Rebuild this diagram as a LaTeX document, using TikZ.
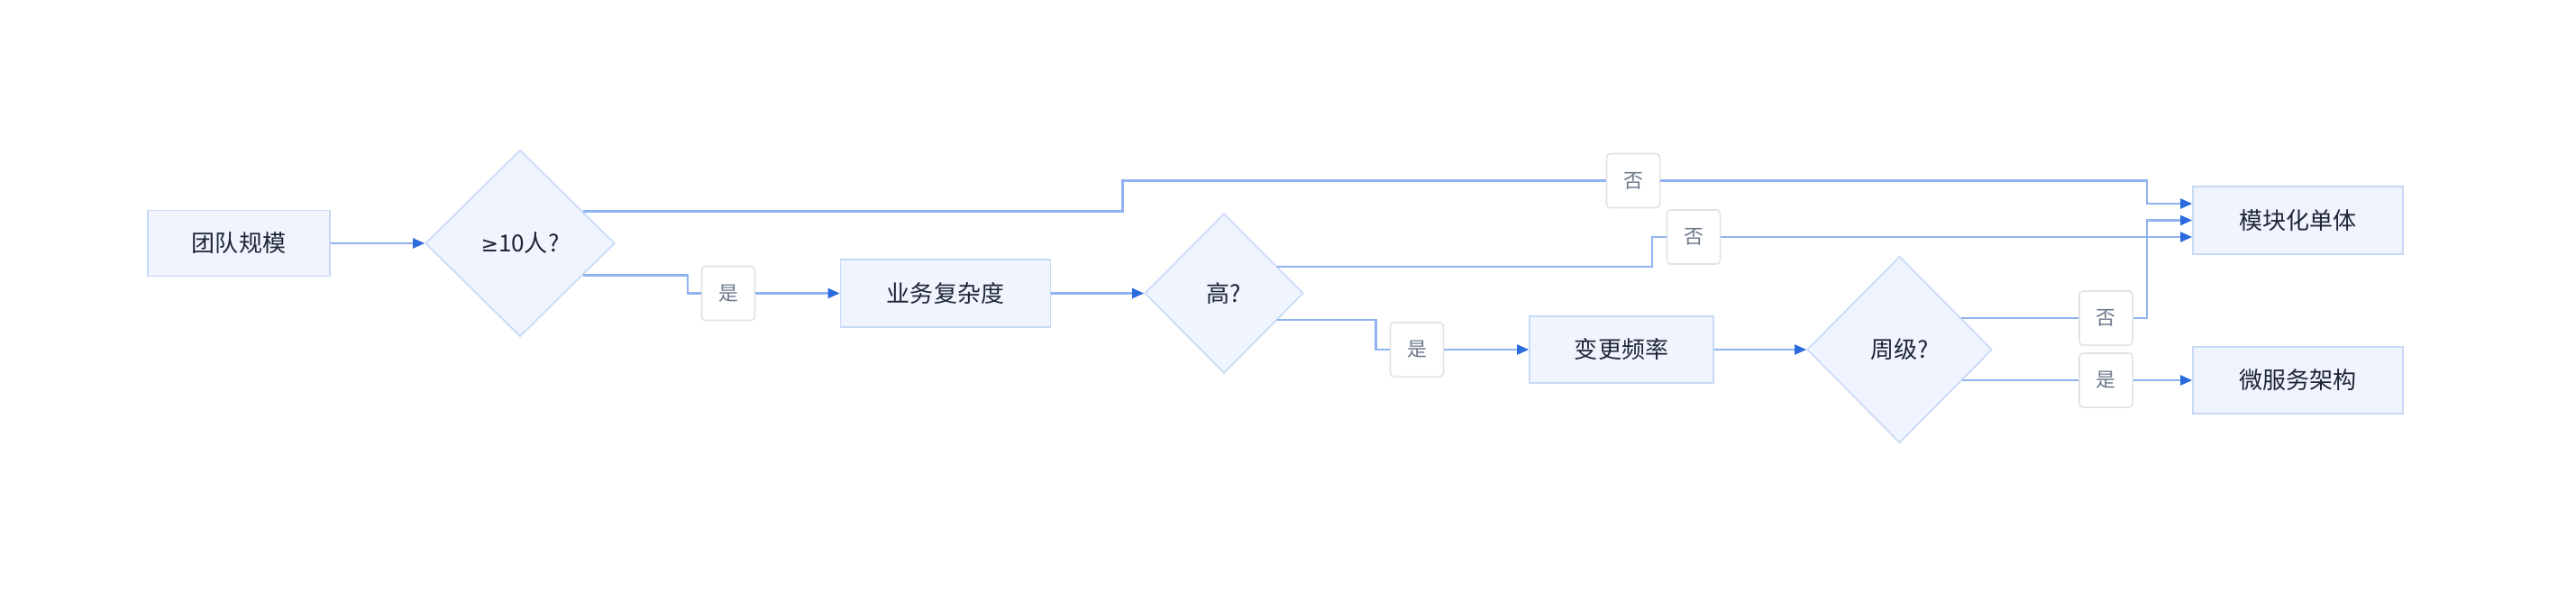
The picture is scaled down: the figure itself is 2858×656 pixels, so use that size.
\documentclass[tikz,border=0pt]{standalone}
\usepackage{fontspec}
\setmainfont{Noto Sans CJK SC}
\newfontfamily\mathsym{DejaVu Sans}
\usepackage{xcolor}
\usetikzlibrary{shapes.geometric, arrows.meta, calc, positioning}

\definecolor{boxfill}{HTML}{EFF4FE}
\definecolor{boxline}{HTML}{C7D9F5}
\definecolor{flowline}{HTML}{8FB3F0}
\definecolor{tipblue}{HTML}{2C6BDD}
\definecolor{tagline}{HTML}{E2E2E2}
\definecolor{tagtext}{HTML}{6B778A}
\definecolor{inktext}{HTML}{1F2633}

\begin{document}
\begin{tikzpicture}[x=0.01cm, y=-0.01cm,
                                stage/.style={draw=boxline, fill=boxfill, line width=0.45pt, text=inktext, font=\fontsize{7.4}{9}\selectfont, inner sep=0pt, minimum width=2.33cm, minimum height=0.75cm},
                                ask/.style={diamond, aspect=1, draw=boxline, fill=boxfill, line width=0.45pt, text=inktext, font=\fontsize{7.4}{9}\selectfont, inner sep=0pt},
                                tag/.style={draw=tagline, fill=white, rounded corners=1.2pt, line width=0.45pt, text=tagtext, font=\fontsize{6.2}{8}\selectfont, inner sep=0pt, minimum width=0.59cm, minimum height=0.6cm},
                                wire/.style={draw=flowline, line width=0.6pt},
                                flow/.style={wire, -{Triangle[length=0.13cm, width=0.11cm, color=tipblue]}}]
                                \useasboundingbox (0, 0) rectangle (2858, 656);

                                \node[stage, minimum width=2.02cm, minimum height=0.73cm] (team) at (265, 270) {团队规模};
                                \node[ask, minimum width=2.1cm, minimum height=2.07cm] (size) at (577, 270) {{\mathsym\fontsize{6.6}{9}\selectfont ≥}10人?};
                                \node[stage] (cplx) at (1049, 325.5) {业务复杂度};
                                \node[ask, minimum width=1.76cm, minimum height=1.77cm] (high) at (1358, 325.5) {高?};
                                \node[stage, minimum width=2.04cm, minimum height=0.74cm] (freq) at (1799, 388) {变更频率};
                                \node[ask, minimum width=2.05cm, minimum height=2.07cm] (week) at (2107.5, 388) {周级?};
                                \node[stage] (mono) at (2549.5, 244.5) {模块化单体};
                                \node[stage, minimum height=0.74cm] (micro) at (2549.5, 422) {微服务架构};

                                \node[tag] (yes1) at (808, 325.5) {是};
                                \node[tag] (no1) at (1812, 200.5) {否};
                                \node[tag] (no2) at (1879, 263) {否};
                                \node[tag] (yes2) at (1572, 388) {是};
                                \node[tag] (no3) at (2336.5, 353) {否};
                                \node[tag] (yes3) at (2336.5, 422) {是};

                                \coordinate (turn1) at (763, 0);
                                \coordinate (turn2) at (1245.5, 0);
                                \coordinate (turn3) at (1833, 0);
                                \coordinate (turn4) at (1526.5, 0);
                                \coordinate (merge) at (2382, 0);
                                \coordinate (weekhi) at ($(week.east)!0.338!(week.north)$);
                                \coordinate (weeklo) at ($(week.east)!0.33!(week.south)$);

                                \draw[flow] (team) -- (size);
                                \draw[wire] ($(size.east)!0.34!(size.south)$) -| (turn1 |- yes1) -- (yes1);
                                \draw[flow] (yes1) -- (cplx);
                                \draw[wire] ($(size.east)!0.34!(size.north)$) -| (turn2 |- no1) -- (no1);
                                \draw[flow] (no1) -| ($(merge |- mono.west)+(0, -18.5)$) -- ($(mono.west)+(0, -18.5)$);

                                \draw[flow] (cplx) -- (high);
                                \draw[wire] ($(high.east)!0.333!(high.north)$) -| (turn3 |- no2) -- (no2);
                                \draw[flow] (no2) -- ($(mono.west)+(0, 18.5)$);
                                \draw[wire] ($(high.east)!0.333!(high.south)$) -| (turn4 |- yes2) -- (yes2);
                                \draw[flow] (yes2) -- (freq);

                                \draw[flow] (freq) -- (week);
                                \draw[wire] (weekhi |- no3) -- (no3);
                                \draw[flow] (no3) -| (merge |- mono) -- (mono);
                                \draw[wire] (weeklo |- yes3) -- (yes3);
                                \draw[flow] (yes3) -- (micro);
                            \end{tikzpicture}
\end{document}
